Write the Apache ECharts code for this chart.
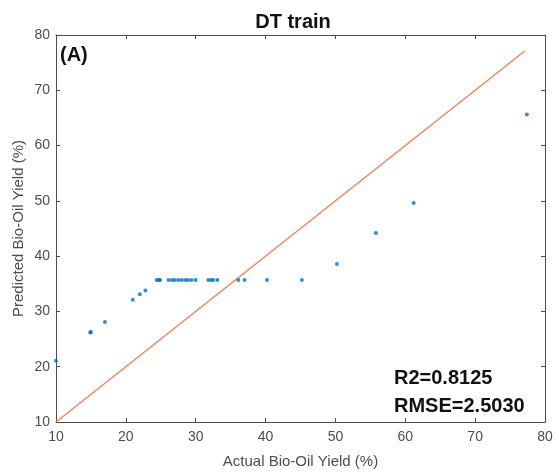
<!DOCTYPE html>
<html><head><meta charset="utf-8">
<script src="https://cdn.jsdelivr.net/npm/echarts@6/dist/echarts.min.js"></script>
<style>html,body{margin:0;padding:0;background:#fff}#c{width:559px;height:474px}</style>
</head><body><div id="c"></div>
<script>
const actual = [10, 14.9, 15.0, 17.0, 21.0, 22.0, 22.8, 24.4, 24.7, 24.9, 26.1, 26.6, 27.0, 27.5, 28.0, 28.5, 28.9, 29.4, 30.0, 31.8, 32.2, 32.5, 33.1, 36.1, 37.0, 40.2, 45.2, 50.2, 55.8, 61.2, 77.4];
const predicted = [21.1, 26.2, 26.3, 28.1, 32.1, 33.1, 33.8, 35.7, 35.7, 35.7, 35.7, 35.7, 35.7, 35.7, 35.7, 35.7, 35.7, 35.7, 35.7, 35.7, 35.7, 35.7, 35.7, 35.7, 35.7, 35.7, 35.7, 38.6, 44.2, 49.6, 65.6];
const ticks = [10, 20, 30, 40, 50, 60, 70, 80];
const lineEnds = [10, 77.1];
const title = 'DT train';
const xName = 'Actual Bio-Oil Yield (%)';
const yName = 'Predicted Bio-Oil Yield (%)';
const stats = ['R2=0.8125', 'RMSE=2.5030'];

const chart = echarts.init(document.getElementById('c'), null, {renderer: 'canvas'});
const font = 'Liberation Sans, Arial, sans-serif';
const axCol = '#4d4d4d';
const baseAxis = {
  min: ticks[0], max: ticks[ticks.length - 1], interval: 10,
  axisLine: {show: true, lineStyle: {color: axCol, width: 1}},
  axisTick: {show: true, inside: true, length: 4, lineStyle: {color: axCol}},
  splitLine: {show: false},
  nameMoveOverlap: false,
  nameTextStyle: {color: axCol, fontFamily: font, fontSize: 15},
  axisLabel: {color: axCol, fontFamily: font, fontSize: 14}
};
chart.setOption({
  animation: false,
  backgroundColor: '#fff',
  title: {text: title, left: 288, top: 7, textAlign: 'center',
    textStyle: {fontFamily: font, fontWeight: 'bold', fontSize: 20, color: '#111'}},
  grid: {left: 56, right: 14, top: 35, bottom: 51},
  xAxis: [
    Object.assign({}, baseAxis, {type: 'value', position: 'bottom', name: xName, nameLocation: 'middle', nameGap: 32,
      axisLabel: Object.assign({}, baseAxis.axisLabel, {margin: 8})}),
    Object.assign({}, baseAxis, {type: 'value', position: 'top', axisLabel: {show: false}})
  ],
  yAxis: [
    Object.assign({}, baseAxis, {type: 'value', position: 'left', name: yName, nameLocation: 'middle', nameGap: 30,
      axisLabel: Object.assign({}, baseAxis.axisLabel, {margin: 6})}),
    Object.assign({}, baseAxis, {type: 'value', position: 'right', axisLabel: {show: false}})
  ],
  graphic: [
    {type: 'text', left: 60, top: 45, style: {text: '(A)', font: 'bold 20px ' + font, fill: '#111'}},
    {type: 'text', left: 394, top: 368, style: {text: stats[0], font: 'bold 20px ' + font, fill: '#111'}},
    {type: 'text', left: 394, top: 396, style: {text: stats[1], font: 'bold 20px ' + font, fill: '#111'}}
  ],
  series: [
    {type: 'line', data: lineEnds.map(v => [v, v]), symbol: 'none', silent: true,
      lineStyle: {color: '#E9865E', width: 1.5}, z: 2},
    {type: 'scatter', data: actual.map((v, i) => [v, predicted[i]]), symbolSize: 4,
      itemStyle: {color: '#0072BD'}, z: 3}
  ]
});
</script></body></html>
